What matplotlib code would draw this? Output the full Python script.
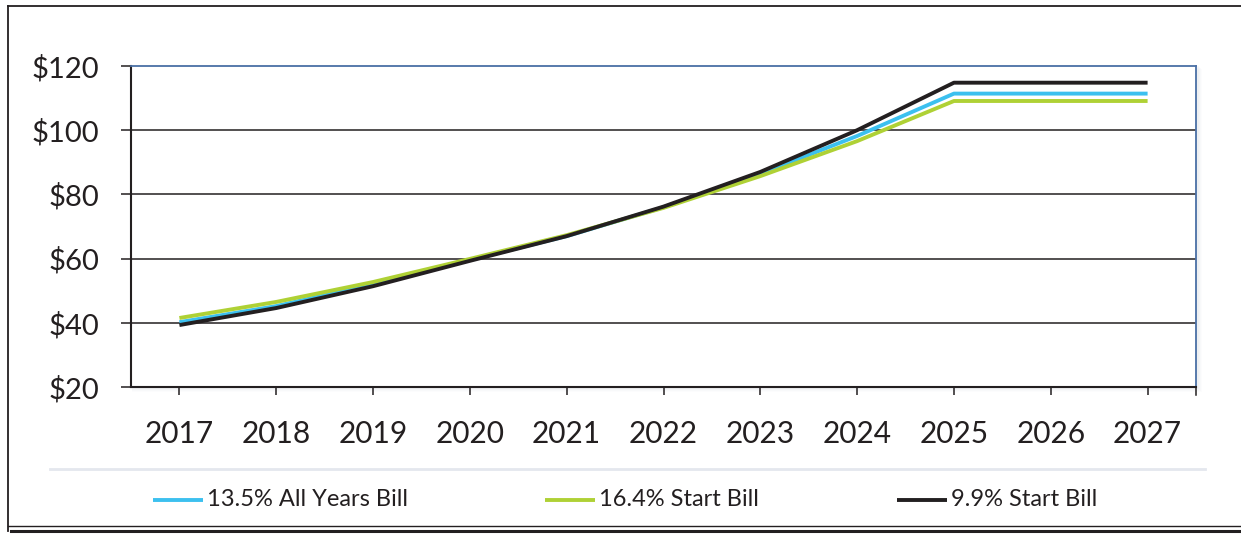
import matplotlib
matplotlib.use("Agg")
import matplotlib.pyplot as plt
from matplotlib.lines import Line2D
from matplotlib.patches import Rectangle

years = ["2017", "2018", "2019", "2020", "2021", "2022", "2023", "2024", "2025", "2026", "2027"]
all_years_bill = [40.2, 45.2, 52.0, 59.6, 67.0, 76.0, 86.4, 98.2, 111.4, 111.4, 111.4]
start_bill_164 = [41.5, 46.5, 52.7, 59.9, 67.3, 75.8, 85.7, 96.6, 109.1, 109.1, 109.1]
start_bill_99 = [39.3, 44.6, 51.4, 59.3, 67.0, 76.2, 87.0, 100.0, 114.8, 114.8, 114.8]
series_labels = ["13.5% All Years Bill", "16.4% Start Bill", "9.9% Start Bill"]
y_ticks = [20, 40, 60, 80, 100, 120]

colors = ["#3cc0ef", "#afd135", "#231f20"]
plt.rcParams["font.family"] = ["Lato", "DejaVu Sans"]

W, H = 1241, 538
fig = plt.figure(figsize=(W / 100, H / 100), dpi=100)

def fx(px):
    return px / W

def fy(py):
    return 1 - py / H

# outer frame: top, left, double bottom rule
fig.add_artist(Line2D([fx(8), fx(1241)], [fy(6), fy(6)], color="#231f20", lw=1.3))
fig.add_artist(Line2D([fx(8), fx(8)], [fy(6), fy(531)], color="#231f20", lw=1.3))
fig.add_artist(Line2D([fx(8), fx(1241)], [fy(526), fy(526)], color="#231f20", lw=1.0))
fig.add_artist(Line2D([fx(11), fx(1241)], [fy(530.5), fy(530.5)], color="#231f20", lw=2.2))

# faint separator above the legend
fig.add_artist(Line2D([fx(50), fx(1205)], [fy(469), fy(469)], color="#e4e7ee", lw=2.0))

left, right, top, bottom = 131, 1196, 66, 387
ax_rect = [fx(left), fy(bottom), fx(right - left), (bottom - top) / H]

# soft shadow behind the plot area
for i, a in enumerate([0.05, 0.04, 0.03, 0.02]):
    d = i + 1
    fig.add_artist(Rectangle((fx(left + 1), fy(bottom + d + 1)),
                             fx(right - left + d + 1), (bottom - top + 2) / H,
                             facecolor="#8a96b0", alpha=a, edgecolor="none", zorder=0))

ax = fig.add_axes(ax_rect)
ax.set_facecolor("white")
x = list(range(len(years)))
for vals, c in zip([all_years_bill, start_bill_164, start_bill_99], colors):
    ax.plot(x, vals, color=c, lw=2.8, solid_capstyle="butt", zorder=3)

ax.set_xlim(-0.5, len(years) - 0.5)
ax.set_ylim(20, 120)
ax.set_yticks(y_ticks)
ax.set_yticklabels([f"${v}" for v in y_ticks])
ax.set_xticks(x)
ax.set_xticklabels(years)
for v in y_ticks[1:-1]:
    ax.axhline(v, color="#231f20", lw=1.1, zorder=1)

ax.spines["top"].set_color("#4a6fa5")
ax.spines["right"].set_color("#4a6fa5")
ax.spines["top"].set_linewidth(1.3)
ax.spines["right"].set_linewidth(1.3)
ax.spines["left"].set_color("#231f20")
ax.spines["bottom"].set_color("#231f20")
ax.spines["left"].set_linewidth(1.5)
ax.spines["bottom"].set_linewidth(1.5)

ax.tick_params(axis="y", direction="out", length=7, width=1.1, color="#231f20",
               pad=16, labelsize=21, labelcolor="#231f20")
ax.tick_params(axis="x", direction="out", length=6, width=1.1, color="#231f20",
               pad=18, labelsize=21.5, labelcolor="#231f20")
# extra tick at the right end of the category axis
ax.add_artist(Line2D([1, 1], [0, -8 / (bottom - top)], transform=ax.transAxes,
                     color="#231f20", lw=1.1, clip_on=False))

# legend
leg_y = fy(500)
entries = [(153, 203), (545, 595), (897, 947)]
for (x0, x1), c, lab in zip(entries, colors, series_labels):
    fig.add_artist(Line2D([fx(x0), fx(x1)], [leg_y, leg_y], color=c, lw=2.8,
                          solid_capstyle="butt"))
    fig.text(fx(x1 + 4), leg_y, lab, ha="left", va="center", fontsize=17,
             color="#231f20")

fig.savefig("out.png", dpi=100)
